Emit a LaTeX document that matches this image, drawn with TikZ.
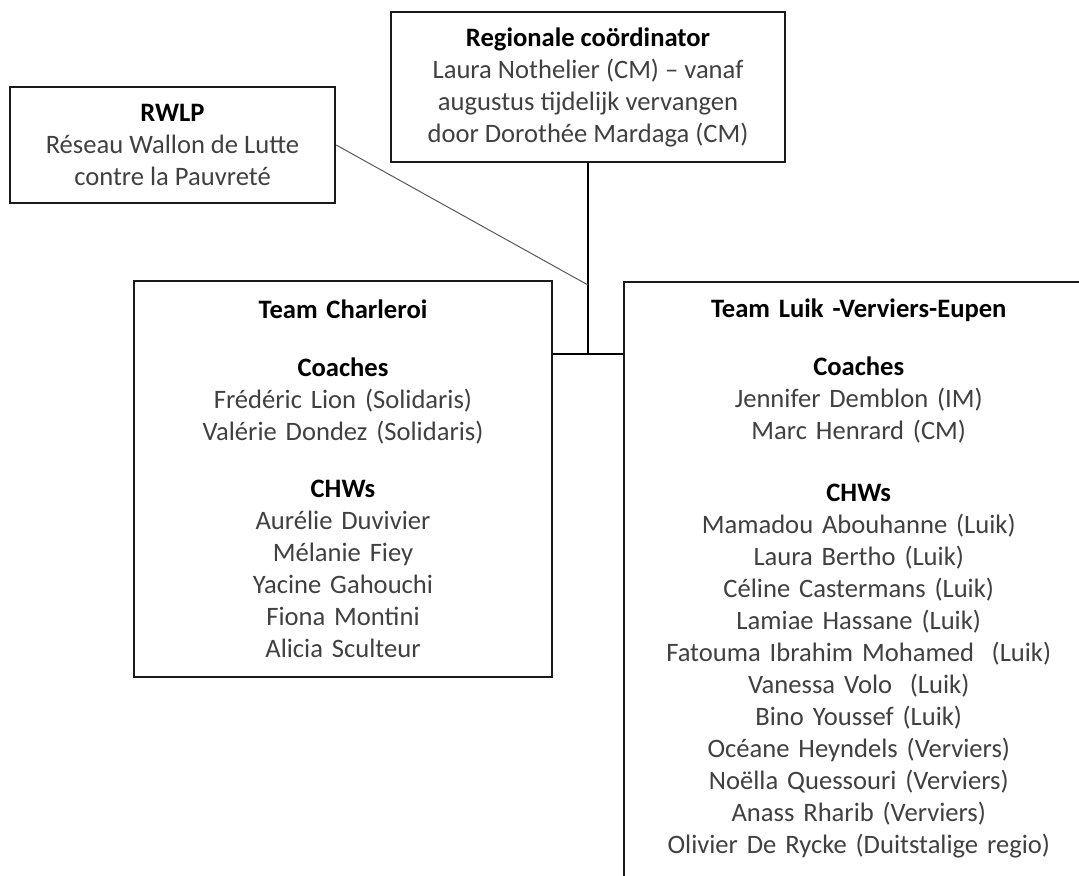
\documentclass[tikz,border=0pt]{standalone}
\usepackage{fontspec}
\setmainfont{Carlito}
\definecolor{inktext}{HTML}{404040}
\definecolor{inkline}{HTML}{1A1A1A}
\newcommand{\orghead}[1]{{\bfseries\color{black}#1}}

\begin{document}
\begin{tikzpicture}[x=0.5pt, y=-0.5pt,
    orgbox/.style={draw=inkline, text=inktext, align=center, inner sep=0pt,
      font=\fontsize{13.3pt}{16pt}\selectfont},
    topbox/.style={orgbox, line width=1.2pt},
    teambox/.style={orgbox, line width=0.75pt}]
  \useasboundingbox (0,0) rectangle (1079,875);

  \node[topbox, minimum width=197pt, minimum height=75pt] (reg) at (588,87)
    {\orghead{Regionale coördinator}\\Laura Nothelier (CM) – vanaf\\augustus tijdelijk vervangen\\door Dorothée Mardaga (CM)};
  \node[topbox, minimum width=162.5pt, minimum height=58pt] (rwlp) at (172.5,145)
    {\orghead{RWLP}\\Réseau Wallon de Lutte\\contre la Pauvreté};

  \node[teambox, minimum width=209pt, minimum height=198pt, text width=200pt] (cha) at (343,479)
    {\orghead{Team Charleroi}\\[13pt]
     \orghead{Coaches}\\Frédéric Lion (Solidaris)\\Valérie Dondez (Solidaris)\\[12.5pt]
     \orghead{CHWs}\\Aurélie Duvivier\\Mélanie Fiey\\Yacine Gahouchi\\Fiona Montini\\Alicia Sculteur};
  \node[teambox, anchor=north west, text width=235pt, inner ysep=8.3pt] (luik) at (623,281)
    {\orghead{Team Luik -Verviers-Eupen}\\[13pt]
     \orghead{Coaches}\\Jennifer Demblon (IM)\\Marc Henrard (CM)\\[15pt]
     \orghead{CHWs}\\Mamadou Abouhanne (Luik)\\Laura Bertho (Luik)\\Céline Castermans (Luik)\\
     Lamiae Hassane (Luik)\\Fatouma Ibrahim Mohamed~ (Luik)\\Vanessa Volo~ (Luik)\\
     Bino Youssef (Luik)\\Océane Heyndels (Verviers)\\Noëlla Quessouri (Verviers)\\
     Anass Rharib (Verviers)\\Olivier De Rycke (Duitstalige regio)\\[40pt]\mbox{}};

  \coordinate (jn) at (reg.south |- 0,354);
  \coordinate (tap) at (588,285);
  \draw[line width=0.75pt] (reg.south) -- (jn);
  \draw[line width=1pt] (cha.east |- jn) -- (luik.west |- jn);
  \draw[black!65, line width=0.5pt] (rwlp.east) -- (tap);
\end{tikzpicture}
\end{document}
